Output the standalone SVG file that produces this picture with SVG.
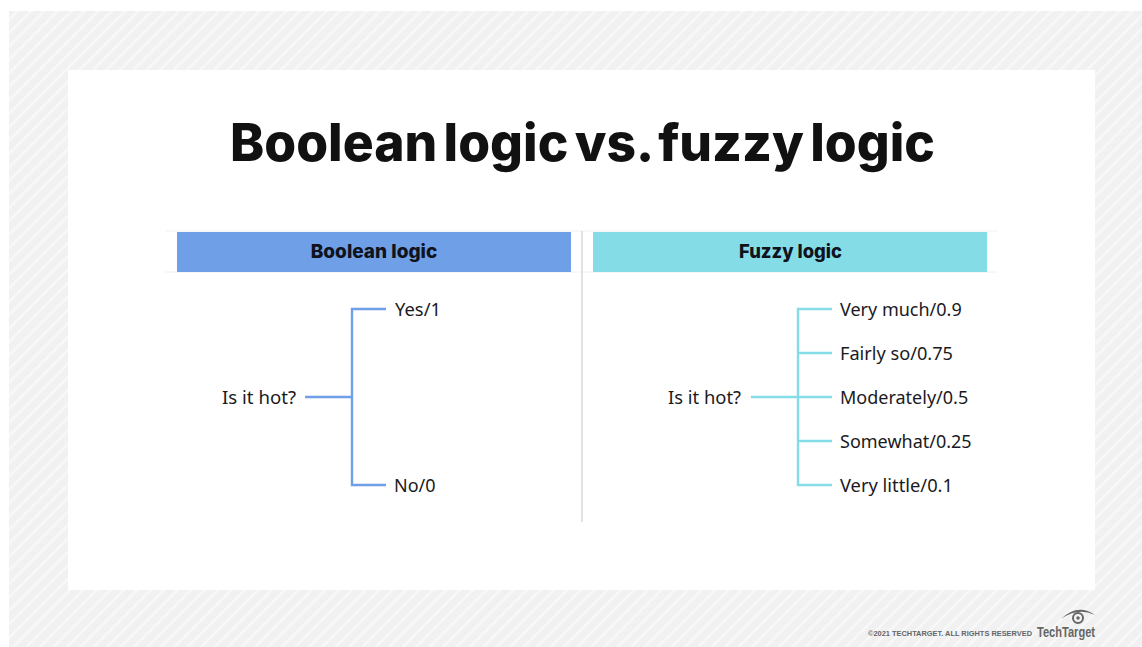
<svg xmlns="http://www.w3.org/2000/svg" width="1142" height="647" viewBox="0 0 1142 647">
<style>
.t{font-family:"Noto Sans","Open Sans",sans-serif;font-size:18px;fill:#1a1a22}
.h{font-family:"Inter","Liberation Sans",sans-serif;font-weight:800;font-size:19px;fill:#10121c;text-anchor:middle}
.b{fill:none;stroke:#6f9fe6;stroke-width:2.4}
.c{fill:none;stroke:#84dde6;stroke-width:2.4}
.r{fill:none;stroke:#eef0f3;stroke-width:1}
</style>
<defs>
<pattern id="st" width="9.5" height="9.5" patternUnits="userSpaceOnUse" patternTransform="rotate(-45)">
<rect width="9.5" height="9.5" fill="#f1f1f1"/><rect width="9.5" height="2.5" y="0" fill="#f8f8f8"/>
</pattern>
</defs>
<rect width="1142" height="647" fill="#fff"/>
<rect x="9" y="11" width="1133" height="636" fill="url(#st)"/>
<rect x="68" y="70" width="1027" height="520" fill="#fff"/>
<text id="title" x="582.5" y="161" text-anchor="middle" textLength="705" lengthAdjust="spacingAndGlyphs" style="font-family:Inter,'Liberation Sans',sans-serif;font-weight:800;font-size:52px;word-spacing:-5px;fill:#111">Boolean logic vs. fuzzy logic</text>
<g id="rules">
<path class="r" d="M165 231H997M165 272H997"/>
<path d="M582 231V522" fill="none" stroke="#dfe2e6" stroke-width="2"/>
</g>
<g id="boolean-header"><rect x="177" y="232" width="394" height="40" fill="#6f9fe6"/><text class="h" x="374" y="258">Boolean logic</text></g>
<g id="fuzzy-header"><rect x="593" y="232" width="394" height="40" fill="#84dde6"/><text class="h" x="790.5" y="258" textLength="103" lengthAdjust="spacingAndGlyphs">Fuzzy logic</text></g>
<g id="connectors">
<path class="b" d="M305 397H352M386 309H352V485H386"/>
<path class="c" d="M751 397H832M832 309H798V485H832M798 353H832M798 441H832"/>
</g>
<g id="b-q"><text class="t" x="222" y="404" textLength="74" lengthAdjust="spacingAndGlyphs">Is it hot?</text></g>
<g id="b-yes"><text class="t" x="395" y="316" textLength="46" lengthAdjust="spacingAndGlyphs">Yes/1</text></g>
<g id="b-no"><text class="t" x="394" y="492">No/0</text></g>
<g id="f-q"><text class="t" x="668" y="404" textLength="73" lengthAdjust="spacingAndGlyphs">Is it hot?</text></g>
<g id="f-1"><text class="t" x="840" y="316">Very much/0.9</text></g>
<g id="f-2"><text class="t" x="840" y="360" textLength="113" lengthAdjust="spacingAndGlyphs">Fairly so/0.75</text></g>
<g id="f-3"><text class="t" x="840" y="404">Moderately/0.5</text></g>
<g id="f-4"><text class="t" x="840" y="448">Somewhat/0.25</text></g>
<g id="f-5"><text class="t" x="840" y="492" textLength="113" lengthAdjust="spacingAndGlyphs">Very little/0.1</text></g>
<g id="footer">
<text x="868" y="636" textLength="164" lengthAdjust="spacingAndGlyphs" style="font-family:'Liberation Sans',sans-serif;font-weight:700;font-size:7px;fill:#666">©2021 TECHTARGET. ALL RIGHTS RESERVED</text>
<text x="1037" y="637" textLength="58" lengthAdjust="spacingAndGlyphs" style="font-family:'Liberation Sans',sans-serif;font-weight:700;font-size:14px;fill:#666">TechTarget</text>
<path d="M1061 619Q1078 603 1095 615Q1078 607 1061 619Z" fill="#666"/>
<circle cx="1078" cy="618" r="5" fill="none" stroke="#666" stroke-width="2"/><circle cx="1078" cy="618" r="1.8" fill="#666"/>
</g>
</svg>
